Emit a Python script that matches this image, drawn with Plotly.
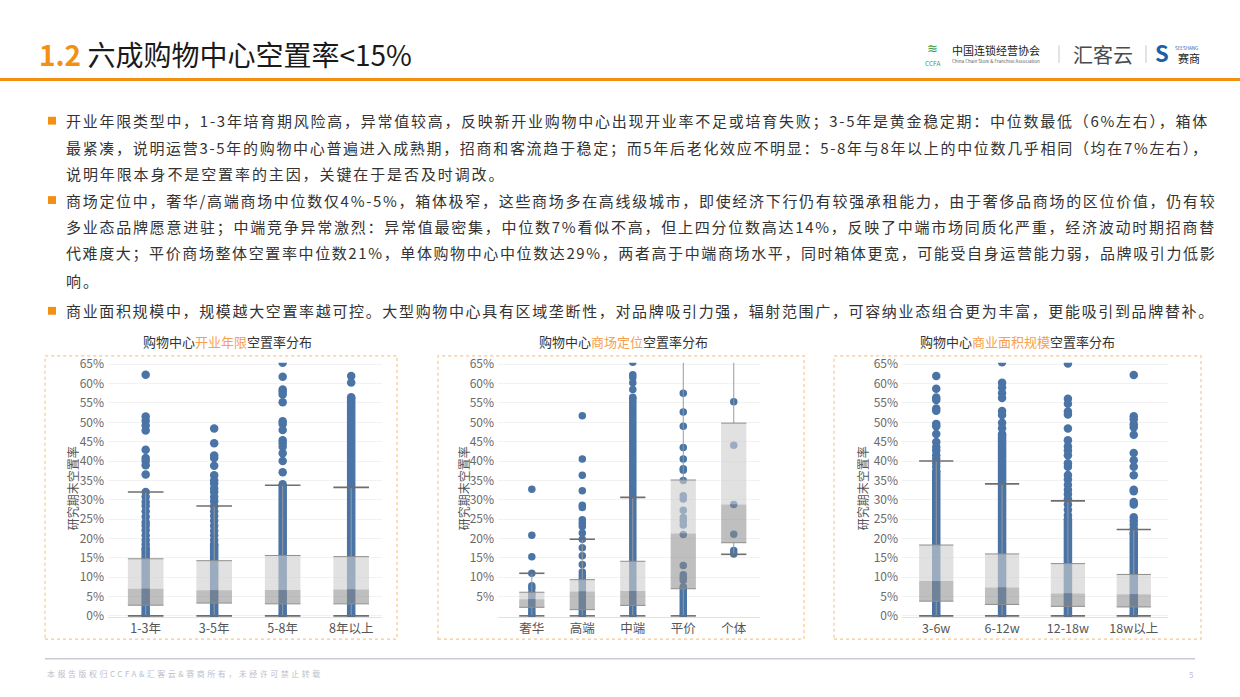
import plotly.graph_objects as go

# ---------------- data ----------------
# Chart 1: opening age
age_cats = ["1-3年", "3-5年", "5-8年", "8年以上"]
age_q1 = [2.75, 3.3, 3.1, 3.1]
age_med = [7.0, 6.6, 6.7, 6.8]
age_q3 = [14.75, 14.25, 15.6, 15.3]
age_lo = [0, 0, 0, 0]
age_hi = [32.0, 28.4, 33.75, 33.2]
age_dense = [[0, 17.5], [0, 18.5], [0, 34.0], [0, 56.5]]
age_points = [
    [62.3, 51.5, 50.4, 49.2, 47.9, 42.9, 40.8, 40.0, 38.9, 36.5, 32.0, 30.8, 29.4, 28.4,
     27.0, 25.6, 24.2, 23.3, 22.1, 20.8, 19.6, 18.5],
    [48.4, 44.6, 41.4, 40.8, 38.8, 36.3, 35.0, 34.2, 32.9, 32.0, 30.8, 29.6, 28.3, 27.0,
     25.8, 24.6, 23.3, 22.0, 20.8, 19.6],
    [65.4, 61.8, 58.5, 57.9, 57.2, 55.2, 50.3, 49.6, 48.0, 45.4, 44.6, 43.7, 42.0, 40.0, 37.1],
    [62.0, 60.3],
]

# Chart 2: positioning
pos_cats = ["奢华", "高端", "中端", "平价", "个体"]
pos_q1 = [2.2, 1.6, 2.7, 7.0, 18.9]
pos_med = [4.3, 6.3, 6.4, 21.3, 28.8]
pos_q3 = [6.1, 9.35, 14.1, 35.1, 49.8]
pos_lo = [0, 0, 0, 0, 15.9]
pos_hi = [11.0, 19.8, 30.6, 72.0, 80.0]
pos_dense = [[0, 6.0], [0, 9.0], [0, 56.5], [0, 7.5], None]
pos_points = [
    [32.7, 20.8, 15.3, 11.0, 7.8, 7.1],
    [51.7, 40.5, 36.3, 32.3, 28.6, 28.0, 24.8, 23.9, 23.1, 21.4, 19.8, 17.6, 15.5, 13.3,
     11.3, 10.4, 9.6],
    [65.5, 62.3, 61.6, 60.2, 58.5],
    [57.5, 52.7, 49.0, 43.5, 40.5, 38.0, 37.6, 35.0, 31.0, 30.2, 27.3, 25.4, 24.5, 23.5,
     21.0, 13.0, 10.6, 9.9, 9.2],
    [55.3, 44.1, 28.8, 21.1, 16.9, 16.0],
]

# Chart 3: commercial area
size_cats = ["3-6w", "6-12w", "12-18w", "18w以上"]
size_q1 = [3.8, 2.95, 2.45, 2.3]
size_med = [9.0, 7.3, 5.8, 5.6]
size_q3 = [18.3, 16.0, 13.5, 10.7]
size_lo = [0, 0, 0, 0]
size_hi = [40.0, 34.1, 29.7, 22.3]
size_dense = [[0, 37.5], [0, 47.0], [0, 25.0], [0, 21.5]]
size_points = [
    [62.0, 58.7, 56.4, 55.8, 53.6, 53.0, 49.6, 49.0, 47.0, 44.9, 43.6, 42.7, 41.5, 40.6,
     39.5, 38.5],
    [65.5, 60.2, 59.0, 57.6, 56.3, 52.9, 51.9, 49.9, 48.5],
    [65.2, 56.1, 54.8, 52.8, 52.0, 48.4, 45.4, 43.8, 42.7, 41.5, 39.4, 38.5, 36.4, 35.2,
     33.9, 32.6, 31.4, 30.1, 28.8, 27.4, 26.0],
    [62.2, 51.6, 50.8, 49.5, 48.7, 46.8, 42.1, 40.2, 38.5, 36.3, 32.6, 32.2, 29.4, 28.8,
     25.5, 24.6, 23.6, 22.5],
]

y_ticks_full = [0, 5, 10, 15, 20, 25, 30, 35, 40, 45, 50, 55, 60, 65]
y_ticks_pos = [5, 10, 15, 20, 25, 30, 35, 40, 45, 50, 55, 60, 65]

title_main_num = "1.2"
title_main_text = "六成购物中心空置率<15%"
chart_titles = [("购物中心", "开业年限", "空置率分布"),
                ("购物中心", "商场定位", "空置率分布"),
                ("购物中心", "商业面积规模", "空置率分布")]
y_title = "研究期末空置率"

para_lines = [
    "开业年限类型中，1-3年培育期风险高，异常值较高，反映新开业购物中心出现开业率不足或培育失败；3-5年是黄金稳定期：中位数最低（6%左右），箱体",
    "最紧凑，说明运营3-5年的购物中心普遍进入成熟期，招商和客流趋于稳定；而5年后老化效应不明显：5-8年与8年以上的中位数几乎相同（均在7%左右），",
    "说明年限本身不是空置率的主因，关键在于是否及时调改。",
    "商场定位中，奢华/高端商场中位数仅4%-5%，箱体极窄，这些商场多在高线级城市，即使经济下行仍有较强承租能力，由于奢侈品商场的区位价值，仍有较",
    "多业态品牌愿意进驻；中端竞争异常激烈：异常值最密集，中位数7%看似不高，但上四分位数高达14%，反映了中端市场同质化严重，经济波动时期招商替",
    "代难度大；平价商场整体空置率中位数21%，单体购物中心中位数达29%，两者高于中端商场水平，同时箱体更宽，可能受自身运营能力弱，品牌吸引力低影",
    "响。",
    "商业面积规模中，规模越大空置率越可控。大型购物中心具有区域垄断性，对品牌吸引力强，辐射范围广，可容纳业态组合更为丰富，更能吸引到品牌替补。",
]
para_justify = [True, True, False, True, True, True, False, True]
para_bullet = [True, False, False, True, False, False, False, True]
footer_text = "本报告版权归CCFA&汇客云&赛商所有，未经许可禁止转载"
page_no = "5"

# ---------------- styling ----------------
W, H = 1240, 697
BLUE = "#4A74A5"
ORANGE = "#F39012"
TORANGE = "#F7A04E"
FONT = "Noto Sans CJK SC, Noto Sans, sans-serif"


def px(x):
    return x / W


def py(y):
    return 1 - y / H


fig = go.Figure()

Y_TOP, Y_BOT = 362, 621.5
YR = [-0.3, 65.4]

charts = [
    dict(cats=age_cats, q1=age_q1, med=age_med, q3=age_q3, lo=age_lo, hi=age_hi,
         dense=age_dense, points=age_points, x0=108, x1=382, xr=[-0.55, 3.45],
         bw=0.52, dot=8.5, ticks=y_ticks_full, frame=(45, 397), title_x=227, ytx=72),
    dict(cats=pos_cats, q1=pos_q1, med=pos_med, q3=pos_q3, lo=pos_lo, hi=pos_hi,
         dense=pos_dense, points=pos_points, x0=498, x1=760, xr=[-0.67, 4.52],
         bw=0.5, dot=7.5, ticks=y_ticks_pos, frame=(438, 804), title_x=623, ytx=463),
    dict(cats=size_cats, q1=size_q1, med=size_med, q3=size_q3, lo=size_lo, hi=size_hi,
         dense=size_dense, points=size_points, x0=902, x1=1168, xr=[-0.52, 3.52],
         bw=0.52, dot=8.5, ticks=y_ticks_full, frame=(834, 1201), title_x=1017, ytx=862),
]

layout_axes = {}
annotations = []
shapes = []

for k, c in enumerate(charts, 1):
    sfx = "" if k == 1 else str(k)
    xa, ya = "x" + sfx, "y" + sfx
    n = len(c["cats"])
    hw = c["bw"] / 2
    common = dict(xaxis=xa, yaxis=ya, hoverinfo="skip", showlegend=False)

    # dense columns of dots
    dx, dy = [], []
    for i, d in enumerate(c["dense"]):
        if d is None:
            continue
        dx += [i, i, None]
        dy += [d[0], d[1], None]
    fig.add_trace(go.Scatter(x=dx, y=dy, mode="lines+markers",
                             line=dict(color=BLUE, width=c["dot"]),
                             marker=dict(size=c["dot"], color=BLUE), **common))
    # individual dots
    ptx, pty = [], []
    for i, pts in enumerate(c["points"]):
        ptx += [i] * len(pts)
        pty += pts
    fig.add_trace(go.Scatter(x=ptx, y=pty, mode="markers",
                             marker=dict(size=c["dot"], color=BLUE, line=dict(width=0)),
                             **common))
    # whisker stems
    wx, wy = [], []
    for i in range(n):
        wx += [i, i, None, i, i, None]
        wy += [c["q3"][i], c["hi"][i], None, c["lo"][i], c["q1"][i], None]
    fig.add_trace(go.Scatter(x=wx, y=wy, mode="lines",
                             line=dict(color="#9A9A9A", width=1), **common))
    # upper box (median -> q3)
    lx, ly = [], []
    for i in range(n):
        lx += [i - hw, i + hw, i + hw, i - hw, i - hw, None]
        ly += [c["med"][i], c["med"][i], c["q3"][i], c["q3"][i], c["med"][i], None]
    fig.add_trace(go.Scatter(x=lx, y=ly, mode="lines", fill="toself",
                             fillcolor="rgba(206,206,206,0.62)",
                             line=dict(width=0, color="rgba(0,0,0,0)"), **common))
    # lower box (q1 -> median)
    bx, by = [], []
    for i in range(n):
        bx += [i - hw, i + hw, i + hw, i - hw, i - hw, None]
        by += [c["q1"][i], c["q1"][i], c["med"][i], c["med"][i], c["q1"][i], None]
    fig.add_trace(go.Scatter(x=bx, y=by, mode="lines", fill="toself",
                             fillcolor="rgba(140,140,140,0.56)",
                             line=dict(width=0, color="rgba(0,0,0,0)"), **common))
    # box edges
    ex, ey = [], []
    for i in range(n):
        ex += [i - hw, i + hw, None, i - hw, i + hw, None]
        ey += [c["q3"][i], c["q3"][i], None, c["q1"][i], c["q1"][i], None]
    fig.add_trace(go.Scatter(x=ex, y=ey, mode="lines",
                             line=dict(color="#8E8E8E", width=1), **common))
    # whisker caps
    cx, cy = [], []
    for i in range(n):
        cx += [i - hw, i + hw, None, i - hw, i + hw, None]
        cy += [c["hi"][i], c["hi"][i], None, c["lo"][i], c["lo"][i], None]
    fig.add_trace(go.Scatter(x=cx, y=cy, mode="lines",
                             line=dict(color="#6E6E6E", width=1.6), **common))

    layout_axes["xaxis" + sfx] = dict(
        domain=[px(c["x0"]), px(c["x1"])], range=c["xr"], anchor=ya,
        tickvals=list(range(n)), ticktext=c["cats"], showgrid=False, zeroline=False,
        showline=True, linecolor="#E2E2E2", linewidth=1, ticks="",
        tickfont=dict(size=12.5, color="#555555", family=FONT), fixedrange=True)
    layout_axes["yaxis" + sfx] = dict(
        domain=[py(Y_BOT), py(Y_TOP)], range=YR, anchor=xa,
        tickvals=c["ticks"], ticktext=[f"{v}%" for v in c["ticks"]],
        showgrid=True, gridcolor="#F2F2F2", gridwidth=1, zeroline=False,
        showline=False, ticks="", ticklabelstandoff=3,
        tickfont=dict(size=12, color="#6A6A6A", family=FONT), fixedrange=True)

    # frame
    shapes.append(dict(type="rect", xref="paper", yref="paper",
                       x0=px(c["frame"][0]), x1=px(c["frame"][1]), y0=py(644), y1=py(355),
                       line=dict(color="#F8C58F", width=1.2, dash="dot")))
    # chart title
    t = chart_titles[k - 1]
    annotations.append(dict(
        xref="paper", yref="paper", x=px(c["title_x"]), y=py(340),
        xanchor="center", yanchor="middle", showarrow=False,
        text=f"{t[0]}<span style='color:{TORANGE}'>{t[1]}</span>{t[2]}",
        font=dict(size=13, color="#333333", family=FONT)))
    # y title
    annotations.append(dict(
        xref="paper", yref="paper", x=px(c["ytx"]), y=py(490), textangle=-90,
        xanchor="center", yanchor="middle", showarrow=False, text=y_title,
        font=dict(size=12, color="#555555", family=FONT)))


# ---------------- text blocks ----------------
def est_width(s, size):
    w = 0.0
    for ch in s:
        o = ord(ch)
        if o >= 0x2E80:
            w += 1.0
        elif ch.isdigit():
            w += 0.555
        elif ch == "%":
            w += 0.88
        elif ch == "-":
            w += 0.33
        elif ch == "/":
            w += 0.39
        else:
            w += 0.5
    return w * size


BODY_SIZE = 15
TEXT_X0, TEXT_X1 = 64, 1212
line_y = [115, 142, 169, 196, 223, 250, 278, 309]
for s, just, bul, yy in zip(para_lines, para_justify, para_bullet, line_y):
    if just:
        ls = (TEXT_X1 - TEXT_X0 - est_width(s, BODY_SIZE)) / (len(s) - 0.6)
    else:
        ls = 1.9
    annotations.append(dict(
        xref="paper", yref="paper", x=px(TEXT_X0), y=py(yy), xanchor="left",
        yanchor="middle", showarrow=False,
        text=f"<span style='letter-spacing:{ls:.2f}px'>{s}</span>",
        font=dict(size=BODY_SIZE, color="#333333", family=FONT)))
    if bul:
        shapes.append(dict(type="rect", xref="paper", yref="paper",
                           x0=px(48), x1=px(56), y0=py(yy + 4), y1=py(yy - 4),
                           fillcolor=ORANGE, line=dict(width=0)))

# title
annotations.append(dict(
    xref="paper", yref="paper", x=px(37), y=py(47), xanchor="left", yanchor="middle",
    showarrow=False,
    text=f"<span style='color:{ORANGE}'><b>{title_main_num}</b></span> "
         + title_main_text.replace("<", "&lt;"),
    font=dict(size=28, color="#1A1A1A", family=FONT)))

# header line
shapes.append(dict(type="line", xref="paper", yref="paper", x0=0, x1=1,
                   y0=py(73), y1=py(73), line=dict(color=ORANGE, width=3)))

# logos (approximate, text based)
logo_items = [
    (932, 40, "≋", 13, "#3C9A47", "center"),
    (932, 56, "CCFA", 6.5, "#3C9A47", "center"),
    (950, 43, "中国连锁经营协会", 11, "#222222", "left"),
    (950, 54, "China Chain Store & Franchise Association", 4.5, "#666666", "left"),
    (1071, 47, "汇客云", 20, "#4A4A4A", "left"),
    (1162, 45, "<b>S</b>", 22, "#1F5FA8", "center"),
    (1173, 41, "SEESHANG", 4.5, "#1F5FA8", "left"),
    (1176, 51, "赛商", 11, "#222222", "left"),
]
for x, y, t, sz, col, anc in logo_items:
    annotations.append(dict(xref="paper", yref="paper", x=px(x), y=py(y), xanchor=anc,
                            yanchor="middle", showarrow=False, text=t,
                            font=dict(size=sz, color=col, family=FONT)))
for sx in (1059, 1146):
    shapes.append(dict(type="line", xref="paper", yref="paper", x0=px(sx), x1=px(sx),
                       y0=py(56), y1=py(38), line=dict(color="#C8C8C8", width=1)))

# footer
shapes.append(dict(type="line", xref="paper", yref="paper", x0=px(45), x1=px(1195),
                   y0=py(664), y1=py(664), line=dict(color="#CACAD4", width=1.5)))
annotations.append(dict(xref="paper", yref="paper", x=px(45), y=py(679), xanchor="left",
                        yanchor="middle", showarrow=False,
                        text=f"<span style='letter-spacing:2.5px'>{footer_text}</span>",
                        font=dict(size=8, color="#BDBECB", family=FONT)))
annotations.append(dict(xref="paper", yref="paper", x=px(1195), y=py(680), xanchor="right",
                        yanchor="middle", showarrow=False, text=page_no,
                        font=dict(size=8, color="#BDBECB", family=FONT)))

fig.update_layout(
    width=W, height=H, margin=dict(l=0, r=0, t=0, b=0),
    paper_bgcolor="white", plot_bgcolor="white", showlegend=False,
    font=dict(family=FONT), annotations=annotations, shapes=shapes,
    **layout_axes)

fig.write_html("out.html", config={"displayModeBar": False})
